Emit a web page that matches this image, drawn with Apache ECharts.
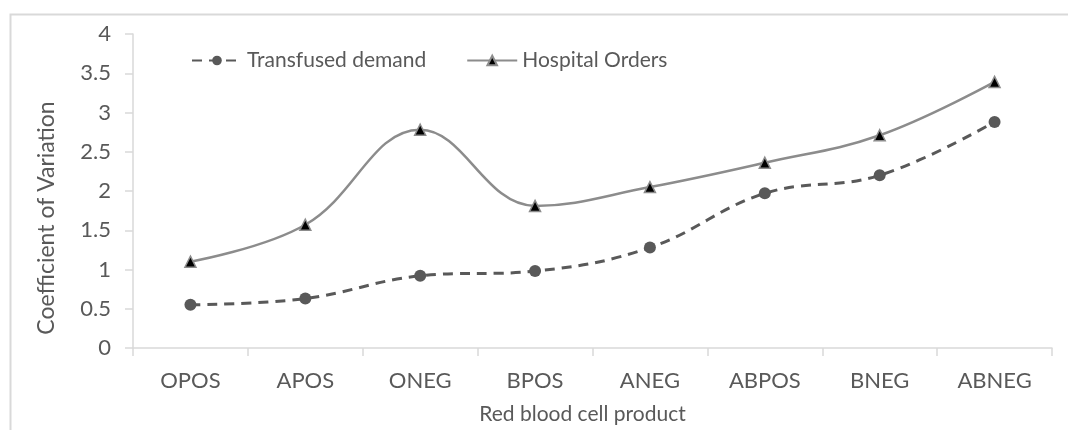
<!DOCTYPE html>
<html>
<head>
<meta charset="utf-8">
<script src="https://cdn.jsdelivr.net/npm/echarts@6/dist/echarts.min.js"></script>
<style>
  html, body { margin: 0; padding: 0; background: #fff; }
  #cvChart { width: 1068px; height: 430px; }
</style>
</head>
<body>
<div id="cvChart"></div>
<script>
// 数据
var products = ['OPOS', 'APOS', 'ONEG', 'BPOS', 'ANEG', 'ABPOS', 'BNEG', 'ABNEG'];
var transfusedDemand = [0.55, 0.63, 0.92, 0.98, 1.28, 1.97, 2.20, 2.88];
var hospitalOrders = [1.10, 1.57, 2.78, 1.81, 2.05, 2.36, 2.71, 3.39];
var yTicks = [0, 0.5, 1, 1.5, 2, 2.5, 3, 3.5, 4];

var textColor = '#595959';
var axisColor = '#d9d9d9';
var font = 'Lato, "Open Sans", sans-serif';

var chartCv = echarts.init(document.getElementById('cvChart'));
var optionCv = {
  backgroundColor: '#fff',
  animation: false,
  // 外框（右边和底部被裁掉）
  graphic: [{
    type: 'rect',
    left: 8,
    top: 12,
    shape: { width: 1200, height: 600 },
    style: { fill: 'none', stroke: axisColor, lineWidth: 2 },
    silent: true
  }],
  legend: {
    top: 45,
    left: 186,
    itemWidth: 50,
    itemHeight: 12,
    itemGap: 40,
    textStyle: { color: textColor, fontSize: 21, fontFamily: font },
    data: ['Transfused demand', 'Hospital Orders']
  },
  grid: {
    left: 133,
    right: 16,
    top: 34,
    bottom: 81
  },
  xAxis: {
    type: 'category',
    data: products,
    name: 'Red blood cell product',
    nameLocation: 'middle',
    nameGap: 56,
    nameTextStyle: { color: textColor, fontSize: 21, fontFamily: font, padding: [0, 20, 0, 0] },
    axisLine: { lineStyle: { color: axisColor, width: 1.5 } },
    axisTick: { show: true, length: 8, lineStyle: { color: axisColor, width: 1.5 } },
    axisLabel: { color: textColor, fontSize: 22, fontFamily: font, margin: 22 },
    splitLine: { show: false }
  },
  yAxis: {
    type: 'value',
    min: yTicks[0],
    max: yTicks[yTicks.length - 1],
    interval: 0.5,
    name: 'Coefficient of Variation',
    nameLocation: 'middle',
    nameGap: 75,
    nameTextStyle: { color: textColor, fontSize: 23, fontFamily: font, padding: [0, 54, 0, 0] },
    axisLine: { show: true, lineStyle: { color: axisColor, width: 1.5 } },
    axisTick: { show: true, length: 8, lineStyle: { color: axisColor, width: 1.5 } },
    axisLabel: { color: textColor, fontSize: 22, fontFamily: font, margin: 22 },
    splitLine: { show: false }
  },
  series: [{
    name: 'Transfused demand',
    type: 'line',
    smooth: 0.4,
    data: transfusedDemand,
    symbol: 'circle',
    symbolSize: 12,
    lineStyle: { color: '#595959', width: 3, type: [10, 7] },
    itemStyle: { color: '#595959', borderColor: '#595959', borderWidth: 0 },
    z: 2
  }, {
    name: 'Hospital Orders',
    type: 'line',
    smooth: 0.4,
    data: hospitalOrders,
    symbol: 'triangle',
    symbolSize: 11,
    lineStyle: { color: '#8c8c8c', width: 2.5 },
    itemStyle: { color: '#000', borderColor: '#8c8c8c', borderWidth: 1.5 },
    z: 3
  }]
};
chartCv.setOption(optionCv);
</script>
</body>
</html>
